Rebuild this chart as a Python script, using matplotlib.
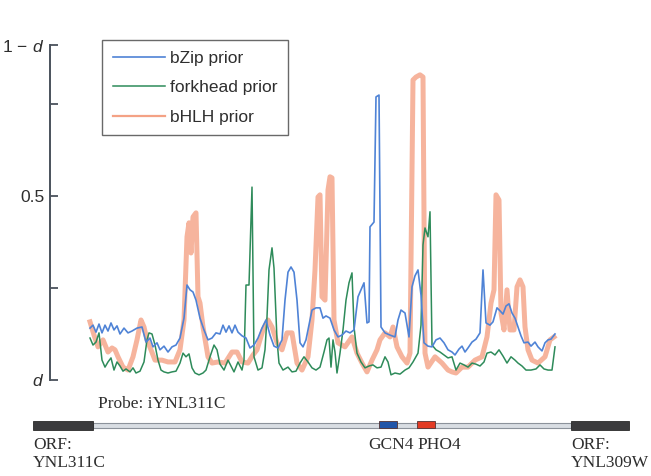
import matplotlib
matplotlib.use("Agg")
import matplotlib.pyplot as plt
from matplotlib.lines import Line2D
from matplotlib.patches import Rectangle

plt.rcParams['font.family'] = ['Liberation Sans', 'DejaVu Sans']
plt.rcParams['mathtext.fontset'] = 'custom'
plt.rcParams['mathtext.rm'] = 'Liberation Sans'
plt.rcParams['mathtext.it'] = 'Liberation Sans:italic'

# positions along the intergenic probe region (same units as the gene track)
bzip_x = [90, 93, 96, 99, 102, 105, 108, 111, 114, 117, 120, 124, 128, 132, 137, 142, 146, 150, 153, 157,
          160, 164, 168, 172, 176, 180, 184, 187, 190, 193, 196, 200, 204, 208, 212, 216, 220, 223, 226, 229,
          232, 235, 238, 242, 246, 250, 254, 258, 262, 266, 270, 274, 278, 282, 285, 288, 291, 294, 297, 300,
          303, 306, 309, 312, 316, 320, 323, 326, 330, 334, 338, 342, 346, 350, 354, 358, 361, 364, 367, 369,
          370, 374, 376, 379, 381, 385, 390, 395, 398, 401, 405, 409, 412, 415, 418, 421, 424, 428, 432, 436,
          440, 444, 448, 452, 455, 459, 462, 465, 468, 472, 476, 480, 483, 486, 490, 493, 497, 500, 503, 506,
          509, 512, 515, 518, 521, 524, 528, 531, 535, 538, 542, 545, 548, 551, 555]
bzip_y = [0.141, 0.149, 0.130, 0.152, 0.128, 0.149, 0.133, 0.155, 0.136, 0.147, 0.125, 0.141, 0.128, 0.133,
          0.141, 0.144, 0.103, 0.114, 0.090, 0.101, 0.082, 0.092, 0.076, 0.090, 0.095, 0.114, 0.168, 0.258,
          0.245, 0.239, 0.217, 0.168, 0.136, 0.109, 0.114, 0.128, 0.125, 0.149, 0.130, 0.147, 0.128, 0.149,
          0.130, 0.120, 0.114, 0.087, 0.095, 0.114, 0.141, 0.163, 0.122, 0.092, 0.087, 0.109, 0.217, 0.293,
          0.307, 0.293, 0.217, 0.101, 0.090, 0.109, 0.149, 0.190, 0.196, 0.196, 0.168, 0.174, 0.168, 0.136,
          0.117, 0.122, 0.133, 0.128, 0.136, 0.226, 0.245, 0.264, 0.155, 0.158, 0.416, 0.429, 0.769, 0.774,
          0.144, 0.128, 0.122, 0.117, 0.163, 0.190, 0.182, 0.117, 0.253, 0.283, 0.299, 0.231, 0.101, 0.092,
          0.090, 0.109, 0.114, 0.101, 0.082, 0.076, 0.068, 0.084, 0.092, 0.076, 0.087, 0.103, 0.111, 0.128,
          0.299, 0.155, 0.149, 0.158, 0.196, 0.188, 0.179, 0.201, 0.207, 0.182, 0.168, 0.144, 0.120, 0.101,
          0.103, 0.092, 0.103, 0.090, 0.079, 0.101, 0.109, 0.111, 0.125]

fork_x = [90, 93, 96, 99, 102, 105, 108, 111, 114, 117, 120, 123, 126, 130, 133, 136, 140, 144, 147, 149,
          152, 155, 158, 161, 164, 168, 172, 176, 180, 183, 186, 189, 192, 195, 199, 203, 206, 210, 214, 217,
          220, 224, 228, 231, 234, 238, 242, 244, 246, 249, 252, 254, 258, 262, 265, 267, 269, 272, 274, 277,
          279, 283, 288, 292, 296, 300, 304, 308, 312, 316, 320, 324, 327, 329, 331, 333, 335, 337, 340, 343,
          346, 349, 352, 354, 357, 361, 365, 369, 373, 377, 381, 385, 388, 391, 395, 400, 405, 409, 413, 418,
          421, 423, 425, 428, 430, 432, 436, 440, 444, 448, 452, 456, 460, 464, 468, 472, 476, 480, 484, 487,
          491, 495, 499, 503, 507, 511, 515, 518, 522, 526, 531, 536, 540, 544, 548, 552, 555]
fork_y = [0.114, 0.095, 0.103, 0.128, 0.054, 0.035, 0.049, 0.060, 0.027, 0.049, 0.038, 0.024, 0.030, 0.022,
          0.033, 0.019, 0.024, 0.049, 0.109, 0.128, 0.125, 0.095, 0.054, 0.027, 0.022, 0.019, 0.022, 0.024,
          0.046, 0.073, 0.063, 0.071, 0.033, 0.019, 0.014, 0.019, 0.027, 0.063, 0.095, 0.082, 0.043, 0.027,
          0.054, 0.038, 0.022, 0.049, 0.027, 0.054, 0.258, 0.258, 0.524, 0.063, 0.027, 0.033, 0.082, 0.171,
          0.299, 0.359, 0.304, 0.109, 0.046, 0.027, 0.035, 0.022, 0.024, 0.046, 0.063, 0.049, 0.033, 0.027,
          0.035, 0.076, 0.109, 0.114, 0.035, 0.109, 0.076, 0.019, 0.073, 0.136, 0.217, 0.264, 0.291, 0.144,
          0.073, 0.049, 0.033, 0.038, 0.041, 0.033, 0.035, 0.063, 0.049, 0.014, 0.019, 0.016, 0.027, 0.033,
          0.049, 0.073, 0.149, 0.367, 0.413, 0.389, 0.457, 0.095, 0.082, 0.076, 0.068, 0.060, 0.063, 0.027,
          0.046, 0.041, 0.035, 0.046, 0.043, 0.038, 0.049, 0.073, 0.076, 0.068, 0.082, 0.065, 0.046, 0.063,
          0.054, 0.046, 0.038, 0.027, 0.027, 0.030, 0.041, 0.030, 0.027, 0.027, 0.090]

bhlh_x = [90, 94, 98, 103, 108, 112, 115, 118, 123, 128, 133, 137, 141, 144, 147, 151, 155, 162, 168, 175,
          180, 184, 187, 189, 191, 193, 196, 198, 200, 203, 208, 212, 218, 225, 232, 237, 242, 248, 253, 257,
          263, 268, 272, 277, 282, 287, 292, 297, 302, 308, 312, 315, 318, 320, 322, 325, 328, 330, 332, 334,
          338, 345, 352, 357, 362, 367, 372, 377, 380, 385, 390, 393, 397, 402, 407, 410, 413, 416, 420, 423,
          425, 428, 435, 442, 448, 452, 456, 462, 468, 475, 482, 487, 491, 494, 496, 499, 501, 504, 507, 510,
          514, 517, 520, 523, 525, 528, 532, 538, 545, 550, 554]
bhlh_y = [0.158, 0.122, 0.090, 0.109, 0.076, 0.087, 0.082, 0.063, 0.035, 0.027, 0.063, 0.109, 0.163, 0.144,
          0.109, 0.082, 0.054, 0.054, 0.049, 0.049, 0.082, 0.163, 0.389, 0.427, 0.345, 0.443, 0.454, 0.226,
          0.209, 0.144, 0.063, 0.046, 0.049, 0.046, 0.076, 0.076, 0.049, 0.046, 0.068, 0.082, 0.136, 0.163,
          0.144, 0.101, 0.082, 0.128, 0.128, 0.046, 0.027, 0.063, 0.163, 0.299, 0.497, 0.503, 0.226, 0.217,
          0.516, 0.552, 0.549, 0.163, 0.101, 0.090, 0.117, 0.073, 0.046, 0.022, 0.054, 0.082, 0.109, 0.128,
          0.117, 0.144, 0.090, 0.063, 0.046, 0.073, 0.815, 0.823, 0.829, 0.823, 0.073, 0.035, 0.063, 0.046,
          0.027, 0.022, 0.019, 0.035, 0.035, 0.054, 0.063, 0.117, 0.209, 0.245, 0.503, 0.489, 0.182, 0.136,
          0.245, 0.136, 0.136, 0.253, 0.272, 0.253, 0.144, 0.082, 0.054, 0.046, 0.063, 0.109, 0.117]

series_labels = ['bZip prior', 'forkhead prior', 'bHLH prior']
y_ticks = [0, 0.25, 0.5, 0.75, 0.91]
y_tick_labels = ['$d$', '', '0.5', '', r'$1\,-\,d$']

# gene track: (name, start, end, colour)
orfs = [('YNL311C', 33, 93), ('YNL309W', 571, 629)]
probe_span = (93, 571)
sites = [('GCN4', 379, 397, '#2255a8'), ('PHO4', 417, 435, '#e23b24')]

blue = '#4f83d6'
green = '#2e8b5a'
salmon = '#f39878'
ink = '#2e2e2e'

W, H = 651, 476
fig = plt.figure(figsize=(W / 100, H / 100), dpi=100)
ax = fig.add_axes([50 / W, 96 / H, 578 / W, 335 / H])
ax.plot(bhlh_x, bhlh_y, color=salmon, lw=3.6, alpha=0.72, solid_joinstyle='round', zorder=1)
ax.plot(fork_x, fork_y, color=green, lw=1.1, zorder=2)
ax.plot(bzip_x, bzip_y, color=blue, lw=1.2, zorder=3)
ax.set_xlim(50, 628)
ax.set_ylim(0, 0.91)
for s in ['top', 'right', 'bottom']:
    ax.spines[s].set_visible(False)
ax.spines['left'].set_color('#4a525c')
ax.spines['left'].set_linewidth(1.4)
ax.set_xticks([])
ax.set_yticks(y_ticks)
ax.set_yticklabels(y_tick_labels)
ax.tick_params(axis='y', direction='in', length=6, width=1.3, color='#4a525c',
               labelsize=12.5, labelcolor=ink, pad=4)

handles = [Line2D([], [], color=blue, lw=1.2),
           Line2D([], [], color=green, lw=1.1),
           Line2D([], [], color=salmon, lw=1.6, alpha=0.9)]
leg = ax.legend(handles, series_labels, loc='upper left',
                bbox_to_anchor=(102 / W, 1 - 40 / H), bbox_transform=fig.transFigure,
                borderaxespad=0, fancybox=False, fontsize=12.5, handlelength=3.0,
                handletextpad=0.3, labelspacing=0.82, borderpad=0.62)
leg.get_frame().set_edgecolor('#444444')
leg.get_frame().set_linewidth(1.0)
for t in leg.get_texts():
    t.set_color(ink)

# gene track
tr = fig.add_axes([0, 0, 1, 95 / H])
tr.set_xlim(0, W)
tr.set_ylim(476, 381)
tr.axis('off')
tr.add_patch(Rectangle((probe_span[0], 423), probe_span[1] - probe_span[0], 5,
                       facecolor='#d9dee3', edgecolor='#8c939b', lw=0.8))
for name, a, b in orfs:
    tr.add_patch(Rectangle((a, 421), b - a, 9, facecolor='#3b3b3d', edgecolor='#2a2a2a', lw=0.6))
    tr.text(a, 445, 'ORF:', family='Liberation Serif', fontsize=12.5, color=ink, va='center')
    tr.text(a, 463, name, family='Liberation Serif', fontsize=12.5, color=ink, va='center')
for name, a, b, c in sites:
    tr.add_patch(Rectangle((a, 420.5), b - a, 7.5, facecolor=c, edgecolor='#553333', lw=0.6))
gcn4, pho4 = sites
tr.text(368, 445, gcn4[0], family='Liberation Serif', fontsize=12.5, color=ink, va='center')
tr.text(pho4[1], 445, pho4[0], family='Liberation Serif', fontsize=12.5, color=ink, va='center')
tr.text(98, 404, 'Probe: iYNL311C', family='Liberation Serif', fontsize=12.5, color=ink, va='center')

fig.savefig('out.png', dpi=100)
